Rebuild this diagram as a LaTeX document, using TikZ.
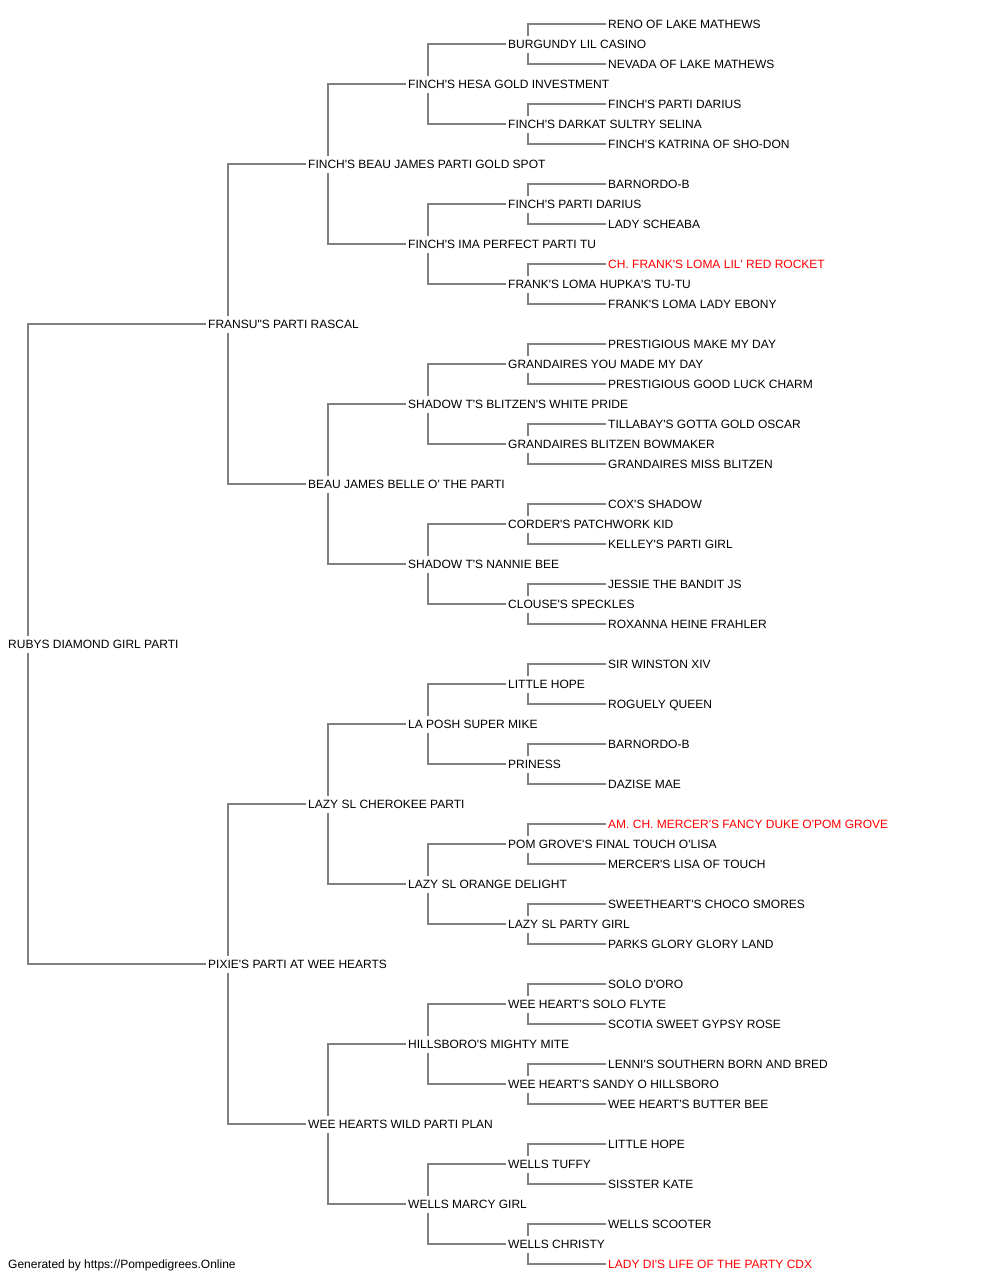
\documentclass[tikz,border=0pt]{standalone}
\usepackage{fontspec}
\setmainfont{Liberation Sans}[Ligatures=TeXOff]
\usetikzlibrary{calc,backgrounds}
\definecolor{linec}{RGB}{128,128,128}
\definecolor{redt}{RGB}{255,0,0}
\begin{document}
\begin{tikzpicture}[x=1pt,y=-1pt,
  nm/.style={anchor=west,xshift=-2pt,fill=white,inner xsep=2pt,inner ysep=0pt,
    text height=12.8pt,text depth=4.2pt,font=\fontsize{12}{14}\selectfont},
  rd/.style={nm,text=redt},
  link/.style={draw=linec,line width=1.7pt}]
\useasboundingbox (0,0) rectangle (1000,1280);
% generation 0
\node[nm] (n31) at (8,644) {RUBYS DIAMOND GIRL PARTI};
% generation 1
\node[nm] (n15) at (208,324) {FRANSU"S PARTI RASCAL};
\node[nm] (n47) at (208,964) {PIXIE'S PARTI AT WEE HEARTS};
% generation 2
\node[nm] (n7) at (308,164) {FINCH'S BEAU JAMES PARTI GOLD SPOT};
\node[nm] (n23) at (308,484) {BEAU JAMES BELLE O' THE PARTI};
\node[nm] (n39) at (308,804) {LAZY SL CHEROKEE PARTI};
\node[nm] (n55) at (308,1124) {WEE HEARTS WILD PARTI PLAN};
% generation 3
\node[nm] (n3) at (408,84) {FINCH'S HESA GOLD INVESTMENT};
\node[nm] (n11) at (408,244) {FINCH'S IMA PERFECT PARTI TU};
\node[nm] (n19) at (408,404) {SHADOW T'S BLITZEN'S WHITE PRIDE};
\node[nm] (n27) at (408,564) {SHADOW T'S NANNIE BEE};
\node[nm] (n35) at (408,724) {LA POSH SUPER MIKE};
\node[nm] (n43) at (408,884) {LAZY SL ORANGE DELIGHT};
\node[nm] (n51) at (408,1044) {HILLSBORO'S MIGHTY MITE};
\node[nm] (n59) at (408,1204) {WELLS MARCY GIRL};
% generation 4
\node[nm] (n1) at (508,44) {BURGUNDY LIL CASINO};
\node[nm] (n5) at (508,124) {FINCH'S DARKAT SULTRY SELINA};
\node[nm] (n9) at (508,204) {FINCH'S PARTI DARIUS};
\node[nm] (n13) at (508,284) {FRANK'S LOMA HUPKA'S TU-TU};
\node[nm] (n17) at (508,364) {GRANDAIRES YOU MADE MY DAY};
\node[nm] (n21) at (508,444) {GRANDAIRES BLITZEN BOWMAKER};
\node[nm] (n25) at (508,524) {CORDER'S PATCHWORK KID};
\node[nm] (n29) at (508,604) {CLOUSE'S SPECKLES};
\node[nm] (n33) at (508,684) {LITTLE HOPE};
\node[nm] (n37) at (508,764) {PRINESS};
\node[nm] (n41) at (508,844) {POM GROVE'S FINAL TOUCH O'LISA};
\node[nm] (n45) at (508,924) {LAZY SL PARTY GIRL};
\node[nm] (n49) at (508,1004) {WEE HEART'S SOLO FLYTE};
\node[nm] (n53) at (508,1084) {WEE HEART'S SANDY O HILLSBORO};
\node[nm] (n57) at (508,1164) {WELLS TUFFY};
\node[nm] (n61) at (508,1244) {WELLS CHRISTY};
% generation 5
\node[nm] (n0) at (608,24) {RENO OF LAKE MATHEWS};
\node[nm] (n2) at (608,64) {NEVADA OF LAKE MATHEWS};
\node[nm] (n4) at (608,104) {FINCH'S PARTI DARIUS};
\node[nm] (n6) at (608,144) {FINCH'S KATRINA OF SHO-DON};
\node[nm] (n8) at (608,184) {BARNORDO-B};
\node[nm] (n10) at (608,224) {LADY SCHEABA};
\node[rd] (n12) at (608,264) {CH. FRANK'S LOMA LIL' RED ROCKET};
\node[nm] (n14) at (608,304) {FRANK'S LOMA LADY EBONY};
\node[nm] (n16) at (608,344) {PRESTIGIOUS MAKE MY DAY};
\node[nm] (n18) at (608,384) {PRESTIGIOUS GOOD LUCK CHARM};
\node[nm] (n20) at (608,424) {TILLABAY'S GOTTA GOLD OSCAR};
\node[nm] (n22) at (608,464) {GRANDAIRES MISS BLITZEN};
\node[nm] (n24) at (608,504) {COX'S SHADOW};
\node[nm] (n26) at (608,544) {KELLEY'S PARTI GIRL};
\node[nm] (n28) at (608,584) {JESSIE THE BANDIT JS};
\node[nm] (n30) at (608,624) {ROXANNA HEINE FRAHLER};
\node[nm] (n32) at (608,664) {SIR WINSTON XIV};
\node[nm] (n34) at (608,704) {ROGUELY QUEEN};
\node[nm] (n36) at (608,744) {BARNORDO-B};
\node[nm] (n38) at (608,784) {DAZISE MAE};
\node[rd] (n40) at (608,824) {AM. CH. MERCER'S FANCY DUKE O'POM GROVE};
\node[nm] (n42) at (608,864) {MERCER'S LISA OF TOUCH};
\node[nm] (n44) at (608,904) {SWEETHEART'S CHOCO SMORES};
\node[nm] (n46) at (608,944) {PARKS GLORY GLORY LAND};
\node[nm] (n48) at (608,984) {SOLO D'ORO};
\node[nm] (n50) at (608,1024) {SCOTIA SWEET GYPSY ROSE};
\node[nm] (n52) at (608,1064) {LENNI'S SOUTHERN BORN AND BRED};
\node[nm] (n54) at (608,1104) {WEE HEART'S BUTTER BEE};
\node[nm] (n56) at (608,1144) {LITTLE HOPE};
\node[nm] (n58) at (608,1184) {SISSTER KATE};
\node[nm] (n60) at (608,1224) {WELLS SCOOTER};
\node[rd] (n62) at (608,1264) {LADY DI'S LIFE OF THE PARTY CDX};
% footer
\node[nm] (foot) at (8,1264) {Generated by https://Pompedigrees.Online};
% connectors
\begin{scope}[on background layer]
\foreach \p/\s/\d in {31/15/47,
  15/7/23, 47/39/55,
  7/3/11, 23/19/27, 39/35/43, 55/51/59,
  3/1/5, 11/9/13, 19/17/21, 27/25/29, 35/33/37, 43/41/45, 51/49/53, 59/57/61,
  1/0/2, 5/4/6, 9/8/10, 13/12/14, 17/16/18, 21/20/22, 25/24/26, 29/28/30,
  33/32/34, 37/36/38, 41/40/42, 45/44/46, 49/48/50, 53/52/54, 57/56/58, 61/60/62}
  \draw[link] (n\s.west) -| ($(n\p.west)+(22,0)$) |- (n\d.west);
\end{scope}
\end{tikzpicture}
\end{document}
